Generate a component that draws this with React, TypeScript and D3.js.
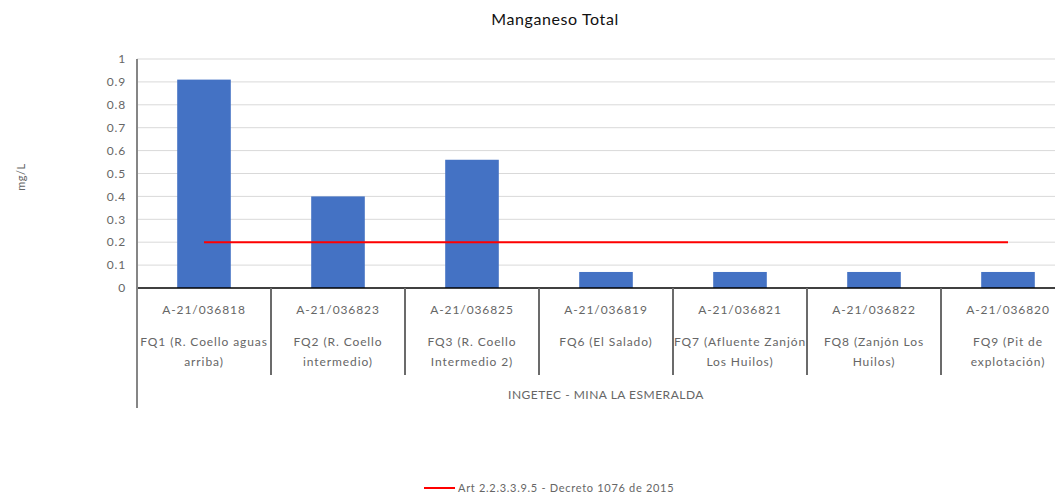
import * as d3 from "d3";

// chart data
const codes = ["A-21/036818", "A-21/036823", "A-21/036825", "A-21/036819", "A-21/036821", "A-21/036822", "A-21/036820"];
const stationLines = [
  ["FQ1 (R. Coello aguas", "arriba)"],
  ["FQ2 (R. Coello", "intermedio)"],
  ["FQ3 (R. Coello", "Intermedio 2)"],
  ["FQ6 (El Salado)"],
  ["FQ7 (Afluente Zanjón", "Los Huilos)"],
  ["FQ8 (Zanjón Los", "Huilos)"],
  ["FQ9 (Pit de", "explotación)"],
];
const manganeso = [0.91, 0.4, 0.56, 0.07, 0.07, 0.07, 0.07];
const limite = [0.2, 0.2, 0.2, 0.2, 0.2, 0.2, 0.2];
const yTicks = [0, 0.1, 0.2, 0.3, 0.4, 0.5, 0.6, 0.7, 0.8, 0.9, 1];
const groupLabel = "INGETEC - MINA LA ESMERALDA";
const legendLabel = "Art 2.2.3.3.9.5 - Decreto 1076 de 2015";
const title = "Manganeso Total";

export default function App() {
  const width = 1055;
  const height = 493;
  const left = 137;
  const right = 1075; // plot runs past the right edge like the screenshot
  const top = 59;
  const bottom = 288;
  const font = "Lato, 'Open Sans', sans-serif";
  const textColor = "#666666";

  const x = d3.scaleBand<string>().domain(codes).range([left, right]).paddingInner(0.6).paddingOuter(0.3);
  const xCell = d3.scaleBand<string>().domain(codes).range([left, right]);
  const y = d3.scaleLinear([0, 1], [bottom, top]);

  const line = d3
    .line<number>()
    .x((_, i) => (xCell(codes[i]) ?? 0) + xCell.bandwidth() / 2)
    .y((d) => y(d));

  return (
    <svg
      width={width}
      height={height}
      style={{ position: "absolute", left: 0, top: 0, background: "white", fontFamily: font }}
    >
      <text x={555} y={25} textAnchor="middle" fontSize={16} letterSpacing={0.6} fill="#111">
        {title}
      </text>

      <text
        transform={`translate(25, 177) rotate(-90)`}
        textAnchor="middle"
        fontSize={11}
        letterSpacing={0.5}
        fill={textColor}
      >
        mg/L
      </text>

      {/* gridlines + y labels */}
      {yTicks.map((t) => (
        <g key={t}>
          {t > 0 && <line x1={left} x2={right} y1={y(t)} y2={y(t)} stroke="#d9d9d9" strokeWidth={1} />}
          <text x={126} y={y(t)} dy="0.35em" textAnchor="end" fontSize={12} letterSpacing={0.8} fill={textColor}>
            {t}
          </text>
        </g>
      ))}

      {/* bars */}
      {manganeso.map((v, i) => (
        <rect key={codes[i]} x={x(codes[i])} y={y(v)} width={x.bandwidth()} height={y(0) - y(v)} fill="#4472c4" />
      ))}

      {/* reference line */}
      <path d={line(limite) ?? ""} fill="none" stroke="#ff0000" strokeWidth={2} />

      {/* axes */}
      <line x1={left} x2={right} y1={bottom} y2={bottom} stroke="#000" strokeWidth={1.5} />
      <line x1={left} x2={left} y1={top} y2={408} stroke="#868686" strokeWidth={2} />
      {codes.map((c, i) =>
        i === 0 ? null : (
          <line key={c} x1={xCell(c)} x2={xCell(c)} y1={bottom} y2={375} stroke="#6b6b6b" strokeWidth={2} />
        )
      )}

      {/* category labels */}
      {codes.map((c, i) => {
        const cx = (xCell(c) ?? 0) + xCell.bandwidth() / 2;
        return (
          <g key={c} fontSize={12} letterSpacing={0.9} fill={textColor} textAnchor="middle">
            <text x={cx} y={314}>
              {c}
            </text>
            {stationLines[i].map((s, j) => (
              <text key={j} x={cx} y={346 + j * 20}>
                {s}
              </text>
            ))}
          </g>
        );
      })}
      <text x={(left + right) / 2} y={399} textAnchor="middle" fontSize={12} letterSpacing={0.5} fill={textColor}>
        {groupLabel}
      </text>

      {/* legend */}
      <line x1={424} x2={455} y1={488} y2={488} stroke="#ff0000" strokeWidth={2} />
      <text x={458} y={488} dy="0.35em" fontSize={11} letterSpacing={0.7} fill={textColor}>
        {legendLabel}
      </text>
    </svg>
  );
}
